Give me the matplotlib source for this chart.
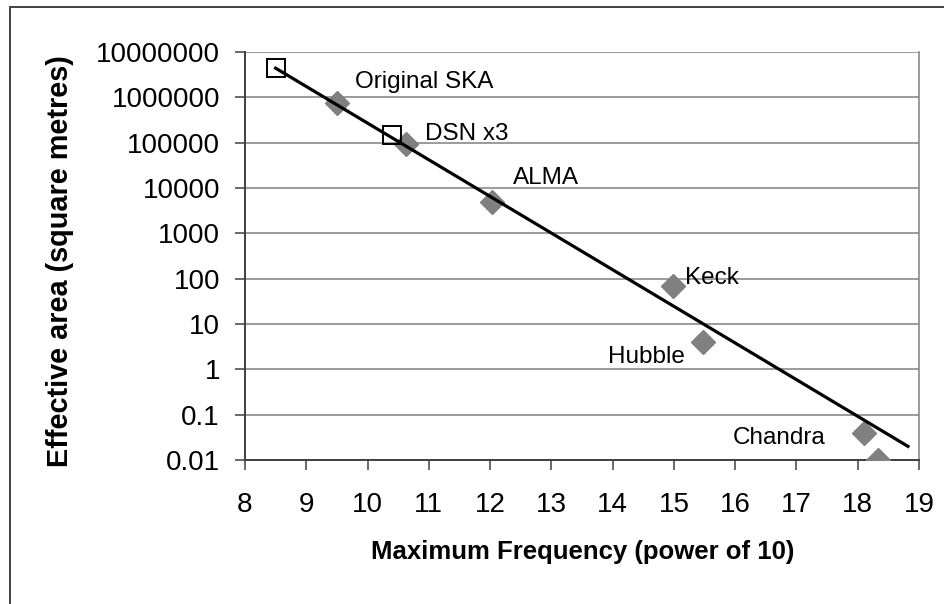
import matplotlib.pyplot as plt
from matplotlib.patches import Rectangle

plt.rcParams['font.family'] = ['Liberation Sans', 'DejaVu Sans']

# existing instruments (grey diamonds)
inst_freq = [9.5, 10.63, 12.03, 14.98, 15.47, 18.1, 18.33]
inst_area = [7.5e5, 9.3e4, 5.0e3, 68, 4.0, 0.04, 0.01]

# hollow squares
sq_freq = [8.5, 10.4]
sq_area = [4.4e6, 1.45e5]

# trend line end points
trend_freq = [8.5, 18.82]
trend_area = [4.4e6, 0.02]

# annotations: text, x, y
ann_text = ['Original SKA', 'DSN x3', 'ALMA', 'Keck', 'Hubble', 'Chandra']
ann_x = [9.79, 10.93, 12.37, 15.18, 13.92, 15.96]
ann_y = [2.2e6, 1.55e5, 1.7e4, 105, 1.85, 0.031]

xticks = list(range(8, 20))
yticks = [1e-2, 1e-1, 1, 10, 100, 1e3, 1e4, 1e5, 1e6, 1e7]
ytick_labels = ['0.01', '0.1', '1', '10', '100', '1000', '10000',
                '100000', '1000000', '10000000']

fig = plt.figure(figsize=(9.44, 6.04), dpi=100)
ax = fig.add_axes([245 / 944, 1 - 460 / 604, (919 - 245) / 944, (460 - 52) / 604])

ax.plot(inst_freq, inst_area, linestyle='none', marker='D', ms=12.5,
        color='#808080', zorder=3)
ax.plot(trend_freq, trend_area, color='black', lw=2.3, zorder=4)
ax.plot(sq_freq, sq_area, linestyle='none', marker='s', ms=13,
        markerfacecolor='none', markeredgecolor='black', mew=1.4, zorder=5)

for t, x, y in zip(ann_text, ann_x, ann_y):
    ax.text(x, y, t, fontsize=17.5, ha='left', va='center', zorder=6)

ax.set_yscale('log')
ax.set_xlim(8, 19)
ax.set_ylim(1e-2, 1e7)
ax.set_xticks(xticks)
ax.set_xticklabels([str(v) for v in xticks])
ax.set_yticks(yticks)
ax.set_yticklabels(ytick_labels)
ax.minorticks_off()

ax.yaxis.grid(True, color='#808080', lw=1.1)
ax.set_axisbelow(True)
ax.spines['top'].set_visible(False)
for s in ['left', 'bottom', 'right']:
    ax.spines[s].set_color('#404040')
    ax.spines[s].set_linewidth(1.4)
ax.spines['right'].set_color('#808080')
ax.spines['right'].set_linewidth(1.1)

ax.tick_params(axis='both', labelsize=20, color='#404040', width=1.1,
               length=7, direction='out')
ax.tick_params(axis='x', pad=16)
ax.tick_params(axis='y', pad=11)

ax.set_xlabel('Maximum Frequency (power of 10)', fontsize=18.5, fontweight='bold')
ax.xaxis.set_label_coords(583 / 944, 1 - 552 / 604, transform=fig.transFigure)
ax.xaxis.label.set_va('center')
ax.set_ylabel('Effective area (square metres)', fontsize=20.8, fontweight='bold')
ax.yaxis.set_label_coords(60 / 944, 1 - 261 / 604, transform=fig.transFigure)
ax.yaxis.label.set_va('center')

# chart area border
fig.patches.append(Rectangle((10 / 944, -0.1), 1.2, 1 - 7 / 604 + 0.1,
                             transform=fig.transFigure, fill=False,
                             edgecolor='#404040', lw=1.4))

fig.savefig('out.png', dpi=100)
